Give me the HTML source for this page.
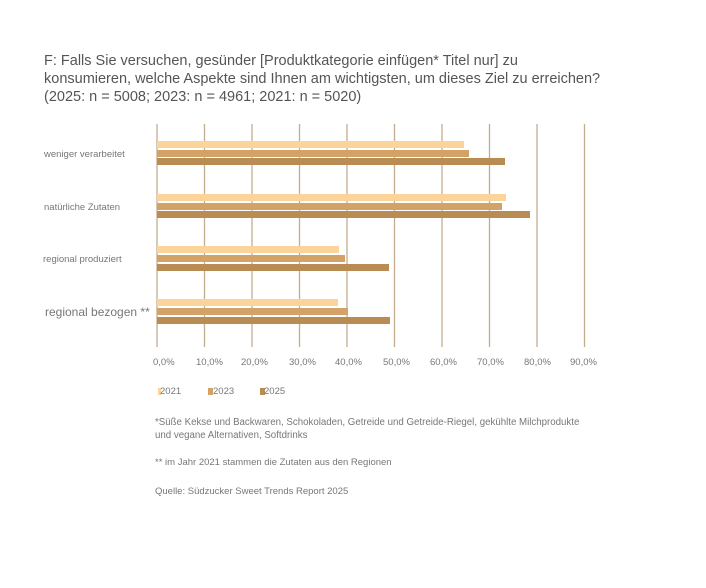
<!DOCTYPE html><html><head><style>
body{margin:0;background:#fff;font-family:"Liberation Sans",sans-serif;}
.t{position:absolute;left:44px;top:52px;font-size:14.5px;line-height:18px;color:#555;white-space:nowrap}
.s{position:absolute;color:#777;font-size:9.5px;white-space:nowrap}
</style></head><body>
<div style="position:relative;width:706px;height:588px;overflow:hidden">
<div class="t">F: Falls Sie versuchen, gesünder [Produktkategorie einfügen* Titel nur] zu<br>konsumieren, welche Aspekte sind Ihnen am wichtigsten, um dieses Ziel zu erreichen?<br>(2025: n = 5008; 2023: n = 4961; 2021: n = 5020)</div>
<svg width="706" height="588" style="position:absolute;left:0;top:0">
<g stroke="#c2ad8e" stroke-width="1.3">
<line x1="157" y1="124" x2="157" y2="347"/><line x1="204.5" y1="124" x2="204.5" y2="347"/><line x1="252" y1="124" x2="252" y2="347"/><line x1="299.5" y1="124" x2="299.5" y2="347"/><line x1="347" y1="124" x2="347" y2="347"/><line x1="394.5" y1="124" x2="394.5" y2="347"/><line x1="442" y1="124" x2="442" y2="347"/><line x1="489.5" y1="124" x2="489.5" y2="347"/><line x1="537" y1="124" x2="537" y2="347"/><line x1="584.5" y1="124" x2="584.5" y2="347"/>
</g>
<g>
<rect x="157" y="141" width="307" height="7" fill="#fbd49c"/><rect x="157" y="150" width="312" height="7" fill="#d2a267"/><rect x="157" y="158" width="348" height="7" fill="#b98c54"/>
<rect x="157" y="194" width="349" height="7" fill="#fbd49c"/><rect x="157" y="203" width="345" height="7" fill="#d2a267"/><rect x="157" y="211" width="373" height="7" fill="#b98c54"/>
<rect x="157" y="246" width="182" height="7" fill="#fbd49c"/><rect x="157" y="255" width="188" height="7" fill="#d2a267"/><rect x="157" y="264" width="232" height="7" fill="#b98c54"/>
<rect x="157" y="299" width="181" height="7" fill="#fbd49c"/><rect x="157" y="308" width="191" height="7" fill="#d2a267"/><rect x="157" y="317" width="233" height="7" fill="#b98c54"/>
</g>
<rect x="158" y="388" width="3" height="7" fill="#fbd49c"/><rect x="208" y="388" width="5" height="7" fill="#d2a267"/><rect x="260" y="388" width="5" height="7" fill="#b98c54"/>
</svg>
<div class="s" style="left:44px;top:149px">weniger verarbeitet</div>
<div class="s" style="left:44px;top:202px">natürliche Zutaten</div>
<div class="s" style="left:43px;top:254px">regional produziert</div>
<div class="s" style="left:45px;top:305px;font-size:12px">regional bezogen **</div>
<div class="s" style="left:153px;top:357px">0,0%</div><div class="s" style="left:196px;top:357px">10,0%</div><div class="s" style="left:241px;top:357px">20,0%</div><div class="s" style="left:289px;top:357px">30,0%</div><div class="s" style="left:335px;top:357px">40,0%</div><div class="s" style="left:383px;top:357px">50,0%</div><div class="s" style="left:430px;top:357px">60,0%</div><div class="s" style="left:477px;top:357px">70,0%</div><div class="s" style="left:524px;top:357px">80,0%</div><div class="s" style="left:570px;top:357px">90,0%</div>
<div class="s" style="left:160px;top:386px">2021</div><div class="s" style="left:213px;top:386px">2023</div><div class="s" style="left:264px;top:386px">2025</div>
<div class="s" style="left:155px;top:416px;line-height:13px;font-size:9.7px">*Süße Kekse und Backwaren, Schokoladen, Getreide und Getreide-Riegel, gekühlte Milchprodukte<br>und vegane Alternativen, Softdrinks</div>
<div class="s" style="left:155px;top:457px">** im Jahr 2021 stammen die Zutaten aus den Regionen</div>
<div class="s" style="left:155px;top:486px">Quelle: Südzucker Sweet Trends Report 2025</div>
</div></body></html>
